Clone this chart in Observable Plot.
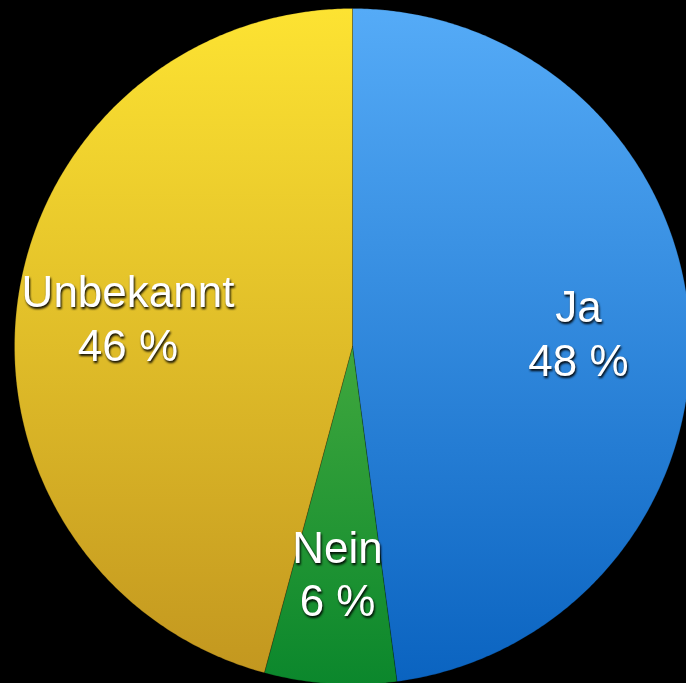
<!DOCTYPE html>
<html>
<head>
<meta charset="utf-8">
<script src="https://cdn.jsdelivr.net/npm/d3@7"></script>
<script src="https://cdn.jsdelivr.net/npm/@observablehq/plot@0.6"></script>
<style>
  html, body { margin: 0; padding: 0; background: #000; }
  #chart { width: 686px; height: 683px; overflow: hidden; }
  .pie-labels text { filter: drop-shadow(1.5px 2px 1.2px rgba(0,0,0,0.95)); }
</style>
</head>
<body>
<div id="chart"></div>
<script>
// Data
const categories = ["Ja", "Nein", "Unbekannt"];
const values = [47.9, 6.3, 45.8];
const percentLabels = ["48 %", "6 %", "46 %"];
const topColors = ["#55abf7", "#74c84f", "#fde332"];
const bottomColors = ["#0a63c0", "#0b872c", "#c2961f"];

const W = 686, H = 683;
const cx = 352, cy = 346, R = 338;

const pie = d3.pie().sort(null).value(d => d.value);
const slices = pie(categories.map((c, i) => ({ category: c, value: values[i], label: percentLabels[i], i })));

// polygon outline of each wedge in data space (unit circle)
const wedgePoints = [];
slices.forEach(s => {
  const pts = [{ x: 0, y: 0 }];
  const n = Math.max(2, Math.ceil((s.endAngle - s.startAngle) / (Math.PI / 360)));
  for (let k = 0; k <= n; k++) {
    const a = s.startAngle + (s.endAngle - s.startAngle) * k / n;
    pts.push({ x: Math.sin(a), y: Math.cos(a) });
  }
  pts.push({ x: 0, y: 0 });
  pts.forEach(p => wedgePoints.push({ ...p, category: s.data.category, i: s.data.i }));
});

const labelData = slices.map(s => {
  const a = (s.startAngle + s.endAngle) / 2;
  return { x: 0.67 * Math.sin(a), y: 0.67 * Math.cos(a), text: s.data.category + "\n" + s.data.label };
});

const marks = categories.map((c, i) =>
  Plot.line(wedgePoints.filter(d => d.i === i), {
    x: "x", y: "y",
    fill: `url(#grad${i})`,
    stroke: "rgba(0,0,0,0.25)",
    strokeWidth: 0.8,
    curve: "linear-closed"
  })
);
marks.push(Plot.text(labelData, {
  x: "x", y: "y", text: "text",
  fill: "white",
  fontSize: 44,
  lineHeight: 1.22,
  fontFamily: "Liberation Sans, Arial, Helvetica, sans-serif",
  className: "pie-labels"
}));

const chart = Plot.plot({
  width: W,
  height: H,
  margin: 0,
  x: { domain: [-1, 1], range: [cx - R, cx + R], axis: null },
  y: { domain: [-1, 1], range: [cy + R, cy - R], axis: null },
  style: { background: "#000", overflow: "hidden" },
  marks
});

// gradients, positioned using the plot's y scale
const ys = chart.scale("y");
const yTop = ys.apply(1), yBot = ys.apply(-1);
const ns = "http://www.w3.org/2000/svg";
const defs = document.createElementNS(ns, "defs");
categories.forEach((c, i) => {
  const g = document.createElementNS(ns, "linearGradient");
  g.setAttribute("id", "grad" + i);
  g.setAttribute("gradientUnits", "userSpaceOnUse");
  g.setAttribute("x1", 0); g.setAttribute("x2", 0);
  g.setAttribute("y1", yTop); g.setAttribute("y2", yBot);
  const s1 = document.createElementNS(ns, "stop");
  s1.setAttribute("offset", "0"); s1.setAttribute("stop-color", topColors[i]);
  const s2 = document.createElementNS(ns, "stop");
  s2.setAttribute("offset", "1"); s2.setAttribute("stop-color", bottomColors[i]);
  g.appendChild(s1); g.appendChild(s2);
  defs.appendChild(g);
});
chart.insertBefore(defs, chart.firstChild);

document.getElementById("chart").appendChild(chart);
</script>
</body>
</html>
